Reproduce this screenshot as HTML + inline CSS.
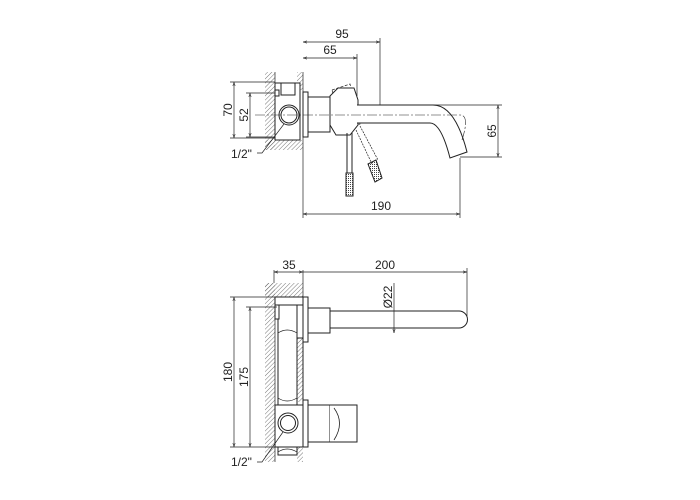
<!DOCTYPE html>
<html><head><meta charset="utf-8"><style>
html,body{margin:0;padding:0;background:#fff}
svg{display:block}
text{font-family:"Liberation Sans",sans-serif;font-size:12px;fill:#222}
</style></head><body>
<svg width="700" height="500" viewBox="0 0 700 500" xmlns="http://www.w3.org/2000/svg">
<defs>
<pattern id="h" width="3" height="3" patternUnits="userSpaceOnUse" patternTransform="rotate(45)">
<line x1="0" y1="0" x2="0" y2="3" stroke="#555" stroke-width="0.8"/>
</pattern>
<pattern id="k" width="2" height="2" patternUnits="userSpaceOnUse">
<rect width="1" height="1" fill="#444"/>
</pattern>
<marker id="a" viewBox="0 0 10 10" refX="10" refY="5" markerWidth="6" markerHeight="6" orient="auto-start-reverse">
<path d="M0,2 L10,5 L0,8" fill="none" stroke="#333" stroke-width="1.2"/>
</marker>
</defs>
<g fill="none" stroke="#222" stroke-width="1">
<!-- TOP VIEW -->
<rect x="265" y="72" width="10" height="78" fill="url(#h)" stroke="none"/>
<rect x="265" y="140" width="38" height="10" fill="url(#h)" stroke="none"/>
<rect x="297" y="72" width="6" height="18" fill="url(#h)" stroke="none"/>
<line x1="275" y1="72" x2="275" y2="140" stroke-width="0.7"/>
<line x1="303" y1="72" x2="303" y2="218" stroke-width="0.7"/>
<rect x="275" y="83" width="25" height="57" fill="#fff"/>
<rect x="281" y="83" width="14" height="12" fill="#fff"/>
<rect x="275" y="90" width="4" height="6" fill="#fff"/>
<circle cx="289" cy="115" r="10"/>
<circle cx="289" cy="115" r="8"/>
<rect x="303" y="92" width="5" height="45" fill="#fff"/>
<rect x="308" y="97" width="22" height="35" fill="#fff"/>
<path d="M332,90 L350,84 L360,124 L342,130 Z" stroke-dasharray="3,1.5" stroke-width="0.7"/>
<path d="M330,96 L338,88 L354,88 L358,100 L358,125 L350,135 L336,135 L330,125 Z" fill="#fff"/>
<path d="M357,105 L433,105 Q455,105 467,152 L450,158 Q441,123 430,123 L357,123" fill="#fff"/>
<line x1="347" y1="133" x2="347" y2="173"/><line x1="352" y1="133" x2="352" y2="173"/>
<rect x="346" y="173" width="7" height="23" fill="url(#k)"/>
<path d="M356,130 L372,164 M360,126 L378,160" stroke-dasharray="2,1" stroke-width="0.7"/>
<path d="M368,164 L376,160 L382,178 L375,182 Z" fill="url(#k)"/>
<path d="M255,115 L460,115 Q470,115 462,140" stroke-dasharray="10,2,2,2" stroke-width="0.6"/>
<!-- dims top -->
<line x1="380" y1="38" x2="380" y2="105" stroke-width="0.7"/>
<line x1="357" y1="54" x2="357" y2="96" stroke-width="0.7"/>
<line x1="303" y1="42" x2="380" y2="42" stroke-width="0.7" marker-start="url(#a)" marker-end="url(#a)"/>
<line x1="303" y1="58" x2="357" y2="58" stroke-width="0.7" marker-start="url(#a)" marker-end="url(#a)"/>
<line x1="460" y1="158" x2="460" y2="218" stroke-width="0.7"/>
<line x1="303" y1="214" x2="460" y2="214" stroke-width="0.7" marker-start="url(#a)" marker-end="url(#a)"/>
<line x1="230" y1="82" x2="275" y2="82" stroke-width="0.7"/>
<line x1="230" y1="138" x2="275" y2="138" stroke-width="0.7"/>
<line x1="246" y1="93" x2="275" y2="93" stroke-width="0.7"/>
<line x1="246" y1="137" x2="275" y2="137" stroke-width="0.7"/>
<line x1="234" y1="82" x2="234" y2="138" stroke-width="0.7" marker-start="url(#a)" marker-end="url(#a)"/>
<line x1="250" y1="93" x2="250" y2="137" stroke-width="0.7" marker-start="url(#a)" marker-end="url(#a)"/>
<line x1="433" y1="105" x2="502" y2="105" stroke-width="0.7"/>
<line x1="460" y1="157" x2="502" y2="157" stroke-width="0.7"/>
<line x1="498" y1="105" x2="498" y2="157" stroke-width="0.7" marker-start="url(#a)" marker-end="url(#a)"/>
<path d="M257,153 L262,153 L284,124" stroke-width="0.7"/>

<!-- BOTTOM VIEW -->
<rect x="265" y="283" width="10" height="179" fill="url(#h)" stroke="none"/>
<rect x="265" y="283" width="38" height="14" fill="url(#h)" stroke="none"/>
<rect x="297" y="338" width="6" height="64" fill="url(#h)" stroke="none"/>
<rect x="297" y="445" width="6" height="17" fill="url(#h)" stroke="none"/>
<line x1="275" y1="297" x2="275" y2="462" stroke-width="0.7"/>
<line x1="303" y1="270" x2="303" y2="297" stroke-width="0.7"/>
<line x1="274" y1="270" x2="274" y2="283" stroke-width="0.7"/>
<rect x="275" y="297" width="29" height="8" fill="#fff"/>
<path d="M278,305 L278,405 M297,305 L297,405 M303,338 L303,400 M297,338 L303,338" />
<path d="M278,333 Q287,327 297,333 M278,398 Q287,404 297,398" stroke-width="0.7"/>
<rect x="275" y="305" width="4" height="14" fill="#fff"/>
<rect x="303" y="297" width="5" height="45" fill="#fff"/>
<rect x="308" y="308" width="22" height="25" fill="#fff"/>
<path d="M330,311 L459,311 A8.5,8.5 0 0 1 459,328 L330,328 Z" fill="#fff"/>
<rect x="275" y="405" width="29" height="42" fill="#fff"/>
<path d="M278,447 L278,455 L297,455 L297,447"/>
<path d="M278,452 Q287,446 297,452" stroke-width="0.7"/>
<circle cx="288" cy="423" r="10"/><circle cx="288" cy="423" r="7.5"/>
<rect x="303" y="400" width="5" height="47" fill="#fff"/>
<rect x="308" y="405" width="22" height="37" fill="#fff"/>
<path d="M330,405 L357,405 L357,442 L330,442" fill="#fff"/>
<path d="M334,408 Q345,423 334,440" stroke-width="0.8"/>
<!-- dims bottom -->
<line x1="274" y1="272" x2="303" y2="272" stroke-width="0.7" marker-start="url(#a)" marker-end="url(#a)"/>
<line x1="303" y1="272" x2="467" y2="272" stroke-width="0.7" marker-end="url(#a)"/>
<line x1="467" y1="268" x2="467" y2="316" stroke-width="0.7"/>
<line x1="394" y1="283" x2="394" y2="333" stroke-width="0.7" marker-end="url(#a)"/>
<line x1="230" y1="297" x2="303" y2="297" stroke-width="0.7"/>
<line x1="230" y1="447" x2="277" y2="447" stroke-width="0.7"/>
<line x1="246" y1="307" x2="277" y2="307" stroke-width="0.7"/>
<line x1="234" y1="297" x2="234" y2="447" stroke-width="0.7" marker-start="url(#a)" marker-end="url(#a)"/>
<line x1="250" y1="307" x2="250" y2="447" stroke-width="0.7" marker-start="url(#a)" marker-end="url(#a)"/>
<path d="M257,462 L262,462 L283,432" stroke-width="0.7"/>
</g>
<g>
<text x="342" y="38" text-anchor="middle">95</text>
<text x="330" y="54" text-anchor="middle">65</text>
<text x="381" y="210" text-anchor="middle">190</text>
<text x="231" y="158">1/2"</text>
<text transform="translate(232,110) rotate(-90)" text-anchor="middle">70</text>
<text transform="translate(248,115) rotate(-90)" text-anchor="middle">52</text>
<text transform="translate(496,131) rotate(-90)" text-anchor="middle">65</text>
<text x="289" y="269" text-anchor="middle">35</text>
<text x="385" y="269" text-anchor="middle">200</text>
<text transform="translate(392,297) rotate(-90)" text-anchor="middle">Ø22</text>
<text transform="translate(232,372) rotate(-90)" text-anchor="middle">180</text>
<text transform="translate(248,377) rotate(-90)" text-anchor="middle">175</text>
<text x="231" y="466">1/2"</text>
</g>
</svg>
</body></html>
